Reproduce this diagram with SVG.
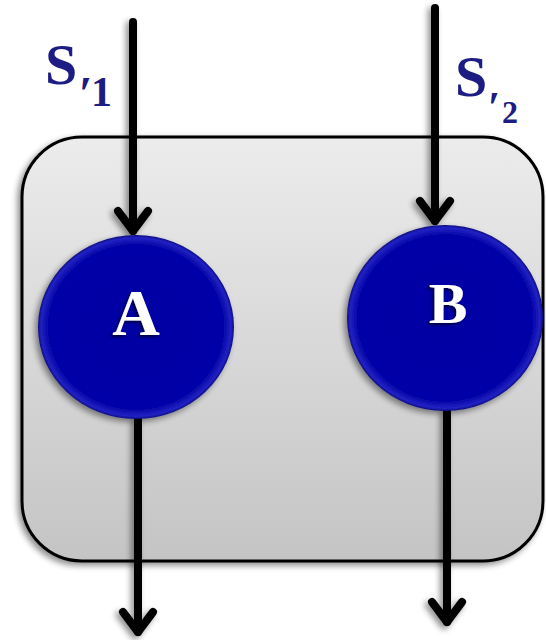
<svg xmlns="http://www.w3.org/2000/svg" width="546" height="640" viewBox="0 0 546 640">
  <style>
    .flow { fill: none; stroke: #000; stroke-width: 8; stroke-linecap: round; stroke-linejoin: round; }
    .label { font-family: "Liberation Serif", "DejaVu Serif", serif; font-weight: bold; fill: #1c1c82; }
    .node-text { font-family: "Liberation Serif", "DejaVu Serif", serif; font-weight: bold; fill: #fff; text-anchor: middle; }
  </style>
  <defs>
    <linearGradient id="boxFill" x1="0" y1="0" x2="0" y2="1">
      <stop offset="0" stop-color="#ececec"/>
      <stop offset="1" stop-color="#c4c4c4"/>
    </linearGradient>
    <radialGradient id="ballFill" cx="0.5" cy="0.5" r="0.5">
      <stop offset="0" stop-color="#0404a2"/>
      <stop offset="0.9" stop-color="#0606a8"/>
      <stop offset="0.97" stop-color="#2222c4"/>
      <stop offset="1" stop-color="#0c0c80"/>
    </radialGradient>
    <filter id="softShadow" x="-20%" y="-20%" width="140%" height="140%">
      <feGaussianBlur in="SourceAlpha" stdDeviation="3"/>
      <feOffset dx="-3" dy="3" result="b"/>
      <feComponentTransfer><feFuncA type="linear" slope="0.45"/></feComponentTransfer>
      <feMerge><feMergeNode/><feMergeNode in="SourceGraphic"/></feMerge>
    </filter>
    <filter id="textShadow" x="-20%" y="-20%" width="140%" height="140%">
      <feGaussianBlur in="SourceAlpha" stdDeviation="1"/>
      <feOffset dx="-2" dy="2"/>
      <feComponentTransfer><feFuncA type="linear" slope="0.6"/></feComponentTransfer>
      <feMerge><feMergeNode/><feMergeNode in="SourceGraphic"/></feMerge>
    </filter>
  </defs>

  <rect width="546" height="640" fill="#fff"/>

  <!-- container -->
  <g id="container">
    <rect x="22" y="137" width="521" height="424" rx="60" ry="60" fill="url(#boxFill)" stroke="#000" stroke-width="3" filter="url(#softShadow)"/>
  </g>

  <!-- stream labels -->
  <g id="label-s1">
    <text class="label" x="45" y="84" font-size="58">S</text>
    <text class="label" x="79" y="110" font-size="48">′</text>
    <text class="label" x="91" y="106" font-size="42">1</text>
  </g>
  <g id="label-s2">
    <text class="label" x="455" y="96" font-size="58">S</text>
    <text class="label" x="488" y="122" font-size="44">′</text>
    <text class="label" x="502" y="123" font-size="32">2</text>
  </g>

  <!-- connectors -->
  <g id="connectors" filter="url(#softShadow)">
    <path class="flow" d="M133 22 V231"/>
    <path class="flow" d="M118 211 L133 231 L148 211"/>
    <path class="flow" d="M435 8 V221"/>
    <path class="flow" d="M420 201 L435 221 L450 201"/>
    <path class="flow" d="M138 420 V632"/>
    <path class="flow" d="M123 612 L138 632 L153 612"/>
    <path class="flow" d="M447 412 V622"/>
    <path class="flow" d="M432 602 L447 622 L462 602"/>
  </g>

  <!-- nodes -->
  <g id="node-a">
    <ellipse cx="136" cy="327" rx="98" ry="92" fill="url(#ballFill)" filter="url(#softShadow)"/>
    <text class="node-text" x="136" y="335" font-size="66" filter="url(#textShadow)">A</text>
  </g>
  <g id="node-b">
    <ellipse cx="445" cy="318" rx="98" ry="93" fill="url(#ballFill)" filter="url(#softShadow)"/>
    <text class="node-text" x="448" y="323" font-size="58" filter="url(#textShadow)">B</text>
  </g>
</svg>
